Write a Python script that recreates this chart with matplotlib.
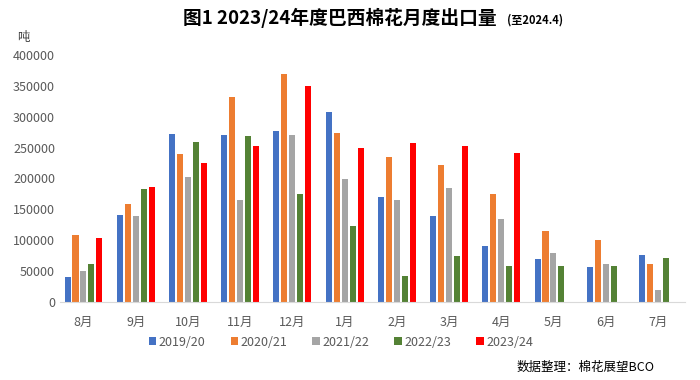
"""
# Brazil cotton monthly exports, 2019/20 - 2023/24 seasons
"""

### Packages
import numpy as np
import matplotlib.pyplot as plt

### Data
months = ["8月", "9月", "10月", "11月", "12月", "1月", "2月", "3月", "4月", "5月", "6月", "7月"]
seasons = ["2019/20", "2020/21", "2021/22", "2022/23", "2023/24"]
s2019 = [40500, 140500, 271800, 270000, 276700, 307000, 170000, 139000, 90000, 69000, 56000, 75500]
s2020 = [108000, 158000, 239400, 332000, 369000, 273000, 234500, 221600, 175000, 114800, 100000, 61000]
s2021 = [50000, 139000, 202000, 165000, 270000, 199000, 165000, 184000, 134000, 80000, 61000, 19000]
s2022 = [61000, 182700, 259000, 268000, 175000, 122500, 41700, 74000, 59000, 59000, 59000, 71000]
s2023 = [103000, 186000, 225000, 252000, 349000, 249000, 257700, 252000, 241000, np.nan, np.nan, np.nan]
colors = ["#4472C4", "#ED7D31", "#A5A5A5", "#548235", "#FF0000"]

### Plot
plt.rcParams['font.family'] = ['Noto Sans CJK SC', 'DejaVu Sans']
fig = plt.figure(figsize=(7, 3.8), dpi=100)
ax = fig.add_axes([0.0857, 0.2053, 0.893, 0.65])

x = np.arange(len(months))
pitch = 0.153
width = 0.115
for i, (name, vals) in enumerate(zip(seasons, [s2019, s2020, s2021, s2022, s2023])):
    ax.bar(x + (i - 2) * pitch, vals, width, color=colors[i], label=name, zorder=2)

ax.set_xlim(-0.45, 11.52)
ax.set_ylim(0, 400000)
ax.set_yticks(np.arange(0, 400001, 50000))
ax.set_xticks(x)
ax.set_xticklabels(months)
ax.tick_params(axis="both", length=0, labelsize=9, colors="#595959")
ax.tick_params(axis="x", pad=10)
for side in ["top", "right", "left"]:
    ax.spines[side].set_visible(False)
ax.spines["bottom"].set_color("#D9D9D9")

# Title and labels
fig.text(0.486, 0.952, "图1 2023/24年度巴西棉花月度出口量", fontsize=13.5, fontweight="bold", ha="center", va="center", color="#000000")
fig.text(0.724, 0.948, "(至2024.4)", fontsize=8, fontweight="bold", ha="left", va="center", color="#000000")
fig.text(0.025, 0.9, "吨", fontsize=9, color="#404040", va="center")
fig.text(0.935, 0.032, "数据整理：棉花展望BCO", fontsize=9, ha="right", va="center", color="#000000")

fig.legend(loc="center", bbox_to_anchor=(0.487, 0.1), ncol=5, frameon=False, fontsize=9,
           handlelength=0.6, handleheight=0.6, handletextpad=0.2, columnspacing=2.0, labelcolor="#595959")

plt.savefig("out.png", dpi=100)
